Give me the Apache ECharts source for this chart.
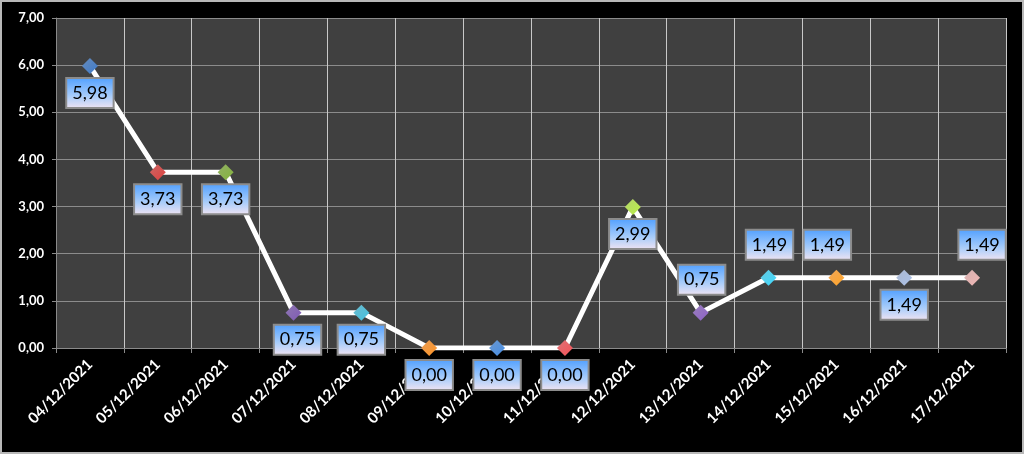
<!DOCTYPE html>
<html>
<head>
<meta charset="utf-8">
<script src="https://cdn.jsdelivr.net/npm/echarts@6/dist/echarts.min.js"></script>
<style>
  html, body { margin: 0; padding: 0; background: #000; }
  #chart { width: 1024px; height: 454px; }
</style>
</head>
<body>
<div id="chart"></div>
<script>
// data
var days = ['04/12/2021', '05/12/2021', '06/12/2021', '07/12/2021', '08/12/2021', '09/12/2021', '10/12/2021',
    '11/12/2021', '12/12/2021', '13/12/2021', '14/12/2021', '15/12/2021', '16/12/2021', '17/12/2021'];
var values = [5.98, 3.73, 3.73, 0.75, 0.75, 0, 0, 0, 2.99, 0.75, 1.49, 1.49, 1.49, 1.49];

// styling: marker colours and label placement per point
var markerColors = ['#3466a8', '#b93634', '#6e9632', '#6a4b98', '#3aa2bc', '#e07c1e', '#3a76c0',
    '#cf454a', '#9cc83c', '#7753a6', '#33b6d6', '#ee8a22', '#8fa1c2', '#c99896'];
var labelSide = ['bottom', 'bottom', 'bottom', 'bottom', 'bottom', 'bottom', 'bottom',
    'bottom', 'bottom', 'top', 'top', 'top', 'bottom', 'top'];
var labelShiftX = [0, 0, 0, 4, 0, 0, 0, 0, 0, 1, 1, -9, 0, 10];

function fmt(v) {
    return v.toFixed(2).replace('.', ',');
}

var chart = echarts.init(document.getElementById('chart'));

var points = values.map(function (v, i) {
    return {
        value: v,
        itemStyle: {
            color: new echarts.graphic.LinearGradient(0, 0, 1, 1, [
                { offset: 0, color: echarts.color.lift(markerColors[i], 0.25) },
                { offset: 1, color: echarts.color.lift(markerColors[i], -0.2) }
            ])
        },
        label: {
            position: labelSide[i],
            distance: labelSide[i] === 'top' ? 11 : 5,
            offset: [labelShiftX[i], 0]
        }
    };
});

option = {
    backgroundColor: '#000',
    animation: false,
    textStyle: { fontFamily: 'Lato' },
    grid: {
        left: 56,
        right: 18,
        top: 18,
        bottom: 106,
        show: true,
        backgroundColor: '#404040',
        borderWidth: 0
    },
    graphic: [{
        type: 'rect',
        silent: true,
        z: 100,
        shape: { x: 1, y: 1, width: 1022, height: 452 },
        style: { fill: null, stroke: '#b8b8b8', lineWidth: 2 }
    }],
    xAxis: {
        type: 'category',
        data: days,
        boundaryGap: true,
        axisLine: { lineStyle: { color: '#8a8a8a', width: 1 } },
        axisTick: { show: true, length: 5, lineStyle: { color: '#8a8a8a' } },
        splitLine: { show: true, lineStyle: { color: '#c8c8c8', width: 1 } },
        axisLabel: {
            rotate: 45,
            margin: 14,
            color: '#fff',
            fontWeight: 'bold',
            fontSize: 15,
            fontFamily: 'Lato',
            interval: 0
        }
    },
    yAxis: {
        type: 'value',
        min: 0,
        max: 7,
        interval: 1,
        axisLine: { show: true, lineStyle: { color: '#8a8a8a', width: 1 } },
        axisTick: { show: true, length: 4, lineStyle: { color: '#8a8a8a' } },
        splitLine: { show: true, lineStyle: { color: '#8c8c8c', width: 1 } },
        axisLabel: {
            margin: 12,
            color: '#fff',
            fontWeight: 'bold',
            fontSize: 13,
            fontFamily: 'Lato',
            formatter: function (v) { return fmt(v); }
        }
    },
    series: [{
        type: 'line',
        data: points,
        symbol: 'diamond',
        symbolSize: 16,
        lineStyle: { color: '#fff', width: 5 },
        label: {
            show: true,
            color: '#000',
            fontSize: 18,
            fontFamily: 'Lato',
            lineHeight: 22,
            padding: [3, 5],
            borderColor: '#8c8c8c',
            borderWidth: 2,
            backgroundColor: new echarts.graphic.LinearGradient(0, 0, 0, 1, [
                { offset: 0, color: '#4f9fff' },
                { offset: 0.6, color: '#a9cdfa' },
                { offset: 1, color: '#f2e4f2' }
            ]),
            formatter: function (p) { return fmt(p.value); }
        }
    }]
};

chart.setOption(option);
</script>
</body>
</html>
